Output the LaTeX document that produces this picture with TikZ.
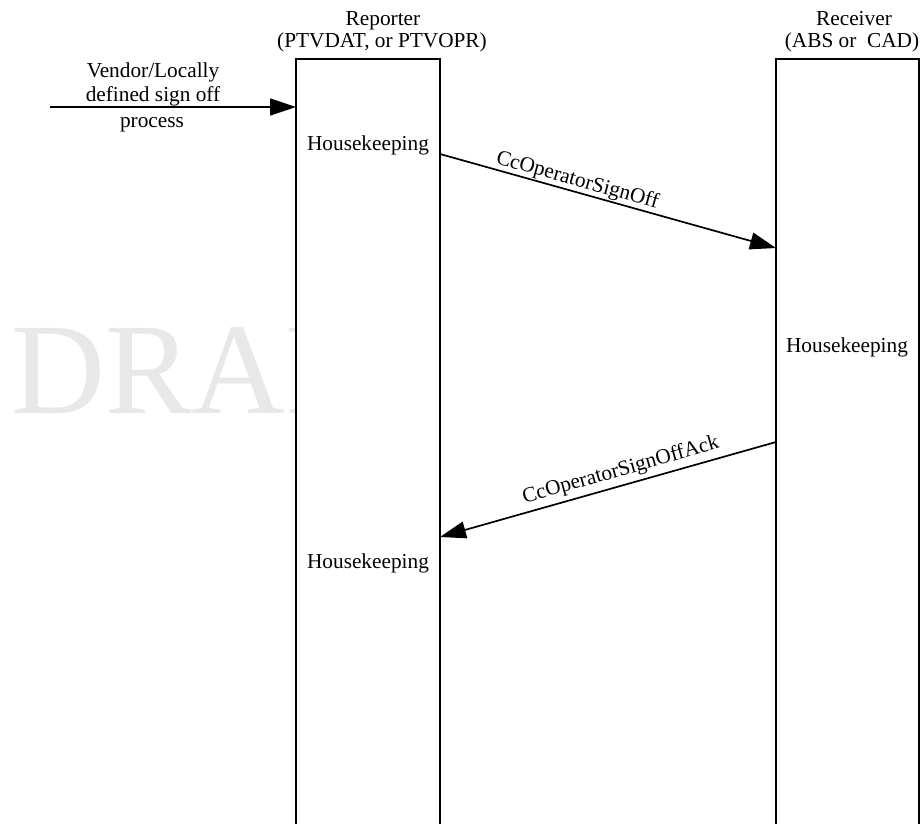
\documentclass[tikz,border=0pt]{standalone}
\usepackage{fontspec}
\setmainfont{Liberation Serif}
\usetikzlibrary{arrows.meta}

\tikzset{
  lbl/.style={font=\fontsize{21.3}{25}\selectfont, inner sep=0pt, anchor=base},
  lifeline/.style={draw=black, fill=white, line width=2pt},
  msg/.style={draw=black, line width=1.7pt,
    -{Triangle[length=26pt, width=17pt]}},
  msglbl/.style={font=\fontsize{21.3}{25}\selectfont, sloped},
  watermark/.style={font=\fontsize{130}{130}\selectfont, text=black!9,
    inner sep=0pt, anchor=base west}
}

\begin{document}
\begin{tikzpicture}[x=1pt, y=-1pt]
  \useasboundingbox[fill=white] (0,0) rectangle (922,823);

  % watermark, partly hidden behind the lifelines
  \node[watermark] (wm) at (11,413) {DRAFT};

  % lifelines (run off the bottom of the page)
  \path[lifeline] (296,835) -- (296,59) -- (440,59) -- (440,835);
  \path[lifeline] (776,835) -- (776,59) -- (919,59) -- (919,835);

  % headers
  \node[lbl] (repA) at (383,25) {Reporter};
  \node[lbl] (repB) at (382,47) {(PTVDAT, or PTVOPR)};
  \node[lbl] (recA) at (854,25) {Receiver};
  \node[lbl] (recB) at (852,47) {(ABS or~~CAD)};

  % activity labels
  \node[lbl] (hk1) at (368,150) {Housekeeping};
  \node[lbl] (hk2) at (847,352) {Housekeeping};
  \node[lbl] (hk3) at (368,568) {Housekeeping};

  % external trigger
  \node[lbl] (v1) at (153,77) {Vendor/Locally};
  \node[lbl] (v2) at (153,101) {defined sign off};
  \node[lbl] (v3) at (152,127) {process};

  \coordinate (src) at (50,107);
  \coordinate (inA) at (296,107);
  \draw[msg] (src) -- (inA);

  % messages
  \coordinate (m1s) at (440,154);
  \coordinate (m1e) at (776,248);
  \draw[msg] (m1s) -- node[msglbl, above, pos=0.40, inner sep=0.5pt] (m1l) {CcOperatorSignOff} (m1e);

  \coordinate (m2s) at (776,442);
  \coordinate (m2e) at (440,537);
  \draw[msg] (m2s) -- node[msglbl, above, pos=0.45, inner sep=4pt] (m2l) {CcOperatorSignOffAck} (m2e);
\end{tikzpicture}
\end{document}
